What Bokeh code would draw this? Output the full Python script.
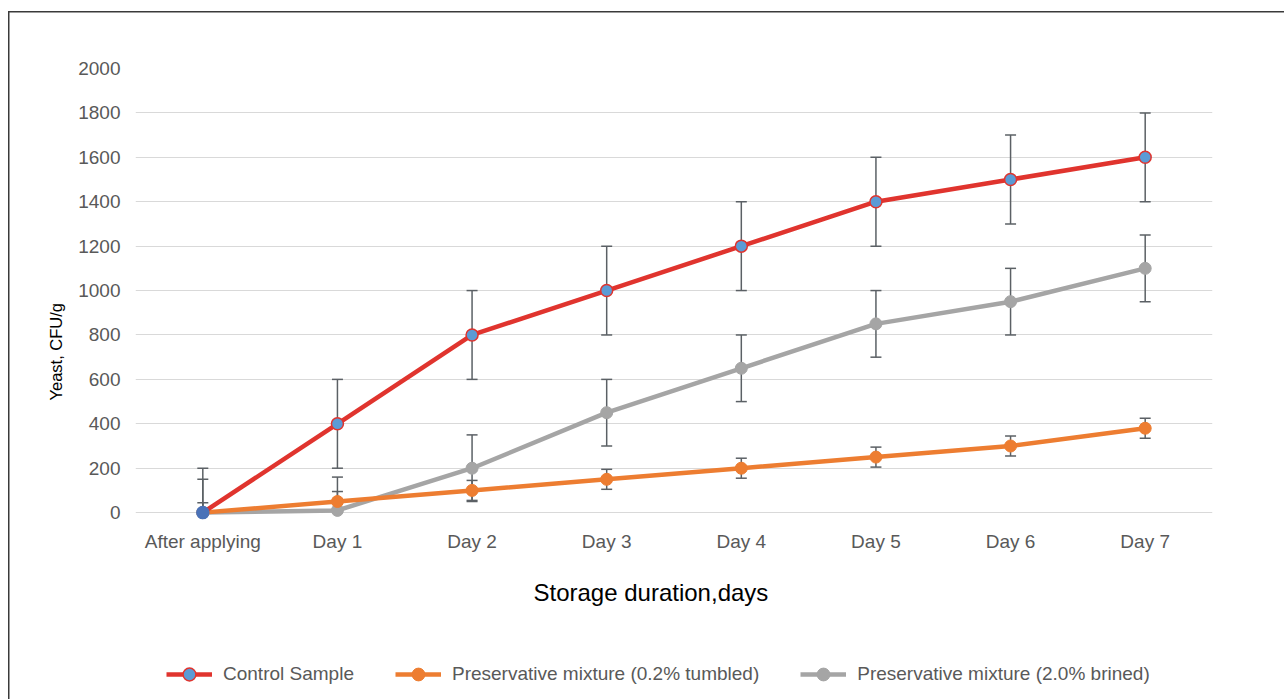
from bokeh.plotting import figure
from bokeh.layouts import column
from bokeh.models import (FixedTicker, Legend, LegendItem, ColumnDataSource, Range1d, Title)
from bokeh.embed import file_html
from bokeh.resources import INLINE

# ---- data ----
categories = ["After applying", "Day 1", "Day 2", "Day 3", "Day 4", "Day 5", "Day 6", "Day 7"]
control = [0, 400, 800, 1000, 1200, 1400, 1500, 1600]
control_err = [200, 200, 200, 200, 200, 200, 200, 200]
tumbled = [0, 50, 100, 150, 200, 250, 300, 380]
tumbled_err = [45, 45, 45, 45, 45, 45, 45, 45]
brined = [0, 10, 200, 450, 650, 850, 950, 1100]
brined_err = [150, 150, 150, 150, 150, 150, 150, 150]
y_ticks = [0, 200, 400, 600, 800, 1000, 1200, 1400, 1600, 1800, 2000]
series_names = ["Control Sample", "Preservative mixture (0.2% tumbled)",
                "Preservative mixture (2.0% brined)"]
y_title = "Yeast, CFU/g"
x_title = "Storage duration,days"

FONT = "Liberation Sans"
RED = "#e0342e"
ORANGE = "#ed7d31"
GRAY = "#a5a5a5"
ERR = "#5b6065"
FRAME = "#3a3a3a"
CTRL_FILL = "#5b9bd5"

p = figure(x_range=categories, y_range=Range1d(-40, 2000),
           width=1284, height=640, output_backend="svg", toolbar_location=None,
           min_border_left=135, min_border_right=72, min_border_top=68,
           min_border_bottom=119)
p.outline_line_color = None
p.background_fill_alpha = 0
p.border_fill_alpha = 0

# axes
p.yaxis.ticker = FixedTicker(ticks=y_ticks)
for ax in (p.xaxis[0], p.yaxis[0]):
    ax.axis_line_color = None
    ax.major_tick_line_color = None
    ax.minor_tick_line_color = None
    ax.major_tick_out = 0
    ax.major_tick_in = 0
    ax.minor_tick_out = 0
    ax.major_label_text_font = FONT
    ax.major_label_text_font_size = "19px"
    ax.major_label_text_color = "#595959"

p.yaxis.major_label_standoff = 15
p.xaxis.major_label_standoff = 9

# axis titles (side titles so they can sit off-centre like the original)
p.add_layout(Title(text=y_title, text_font=FONT, text_font_size="16.5px",
                   text_font_style="normal", text_color="#000000",
                   align="left", offset=121, standoff=21), "left")
p.add_layout(Title(text=x_title, text_font=FONT, text_font_size="24px",
                   text_font_style="normal", text_color="#000000",
                   align="left", offset=398, standoff=44), "below")

p.xgrid.grid_line_color = None
p.ygrid.grid_line_color = "#d9d9d9"
p.ygrid.grid_line_width = 1


def add_errors(vals, errs):
    lo = [max(0, v - e) for v, e in zip(vals, errs)]
    hi = [v + e for v, e in zip(vals, errs)]
    p.segment(x0=categories, x1=categories, y0=lo, y1=hi,
              line_color=ERR, line_width=1.5)
    p.scatter(x=categories, y=hi, marker="dash", size=11,
              line_color=ERR, line_width=1.5)
    cx = [c for c, v, e in zip(categories, vals, errs) if v - e >= 0]
    cy = [v - e for v, e in zip(vals, errs) if v - e >= 0]
    if cx:
        p.scatter(x=cx, y=cy, marker="dash", size=11,
                  line_color=ERR, line_width=1.5)


add_errors(brined, brined_err)
add_errors(tumbled, tumbled_err)
add_errors(control, control_err)

# lines and markers
p.line(categories, brined, line_color=GRAY, line_width=4.5)
p.scatter(categories, brined, size=12, fill_color=GRAY, line_color=GRAY)
p.line(categories, tumbled, line_color=ORANGE, line_width=4.5)
p.scatter(categories, tumbled, size=12, fill_color=ORANGE, line_color=ORANGE)
p.line(categories, control, line_color=RED, line_width=4.5)

ctrl_fill = ["#4a72b8"] + [CTRL_FILL] * (len(categories) - 1)
ctrl_line = ["#4a72b8"] + [RED] * (len(categories) - 1)
src_ctrl = ColumnDataSource(dict(x=categories, y=control, f=ctrl_fill, l=ctrl_line))
p.scatter("x", "y", source=src_ctrl, size=12, fill_color="f",
          line_color="l", line_width=1.5)

# ---- legend strip below the chart (series drawn out of view; only the legend shows) ----
lg = figure(width=1284, height=59, output_backend="svg", toolbar_location=None,
            x_axis_type=None, y_axis_type=None, min_border=0,
            x_range=categories, y_range=Range1d(5000, 6000))
lg.outline_line_color = None
lg.background_fill_alpha = 0
lg.border_fill_alpha = 0
lg.grid.visible = False
r_l = lg.line(categories, control, line_color=RED, line_width=4.5)
r_m = lg.scatter(categories, control, size=12, fill_color=CTRL_FILL, line_color=RED, line_width=1.5)
o_l = lg.line(categories, tumbled, line_color=ORANGE, line_width=4.5)
o_m = lg.scatter(categories, tumbled, size=12, fill_color=ORANGE, line_color=ORANGE)
g_l = lg.line(categories, brined, line_color=GRAY, line_width=4.5)
g_m = lg.scatter(categories, brined, size=12, fill_color=GRAY, line_color=GRAY)

legend = Legend(items=[
    LegendItem(label=series_names[0], renderers=[r_l, r_m]),
    LegendItem(label=series_names[1], renderers=[o_l, o_m]),
    LegendItem(label=series_names[2], renderers=[g_l, g_m]),
], orientation="horizontal", location=(31, 9),
    label_text_font=FONT, label_text_font_size="19px", label_text_color="#595959",
    glyph_width=46, glyph_height=32, label_standoff=11, spacing=41,
    padding=4, margin=0, border_line_color=None, background_fill_alpha=0)
lg.add_layout(legend, "center")

page = column(p, lg, spacing=0)
# thin chart border (top and left edges; the others run off the page)
page.styles = {
    "background": (f"linear-gradient({FRAME},{FRAME}) 8px 11px / 1.5px 100% no-repeat, "
                   f"linear-gradient({FRAME},{FRAME}) 8px 11px / 100% 1.5px no-repeat, white")
}

open("out.html", "w").write(file_html(page, INLINE))
